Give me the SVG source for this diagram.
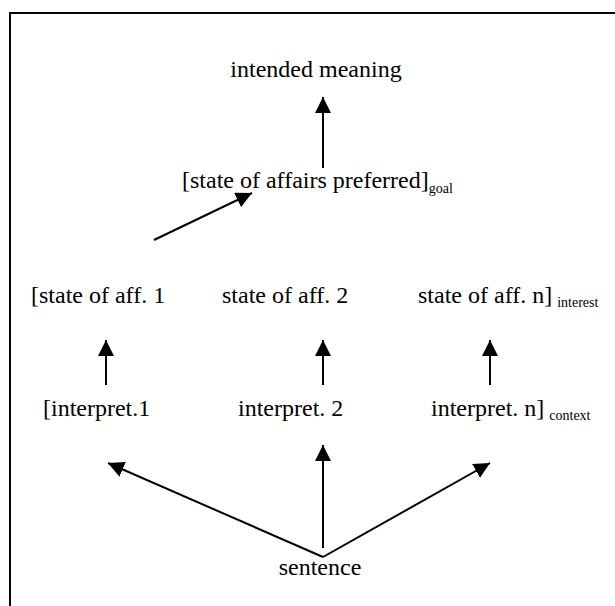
<svg xmlns="http://www.w3.org/2000/svg" width="615" height="606" viewBox="0 0 615 606">
<defs>
<style>
text{font-family:"Liberation Serif","Times New Roman",serif;font-size:24px;fill:#000}
.sub{font-size:14px}
.c line{stroke:#000;stroke-width:2;fill:none}
</style>
<marker id="ah" viewBox="0 0 16 16" refX="16" refY="8" markerWidth="16" markerHeight="16" markerUnits="userSpaceOnUse" orient="auto">
<path d="M0,0 L16,8 L0,16 z" fill="#000"/>
</marker>
</defs>
<rect width="615" height="606" fill="#fff"/>
<rect x="10" y="13" width="700" height="700" fill="none" stroke="#000" stroke-width="2"/>
<g id="n-meaning"><text x="316" y="77" text-anchor="middle">intended meaning</text></g>
<g id="n-goal"><text x="182" y="188">[state of affairs preferred]<tspan class="sub" dy="5">goal</tspan></text></g>
<g id="n-soa1"><text x="31" y="303">[state of aff. 1</text></g>
<g id="n-soa2"><text x="222" y="303">state of aff. 2</text></g>
<g id="n-soan"><text x="418" y="303">state of aff. n]<tspan class="sub" dx="5" dy="4">interest</tspan></text></g>
<g id="n-int1"><text x="43" y="416">[interpret.1</text></g>
<g id="n-int2"><text x="238" y="416">interpret. 2</text></g>
<g id="n-intn"><text x="431" y="416">interpret. n]<tspan class="sub" dx="5" dy="4">context</tspan></text></g>
<g id="n-sentence"><text x="320" y="575" text-anchor="middle">sentence</text></g>
<g class="c" id="connectors">
<line x1="323" y1="168" x2="323" y2="97" marker-end="url(#ah)"/>
<line x1="154" y1="240" x2="252" y2="193" marker-end="url(#ah)"/>
<line x1="106" y1="385" x2="106" y2="340" marker-end="url(#ah)"/>
<line x1="323" y1="385" x2="323" y2="340" marker-end="url(#ah)"/>
<line x1="490" y1="385" x2="490" y2="340" marker-end="url(#ah)"/>
<line x1="323" y1="557" x2="108" y2="463" marker-end="url(#ah)"/>
<line x1="323" y1="548" x2="323" y2="445" marker-end="url(#ah)"/>
<line x1="323" y1="557" x2="490" y2="463" marker-end="url(#ah)"/>
</g>
</svg>
